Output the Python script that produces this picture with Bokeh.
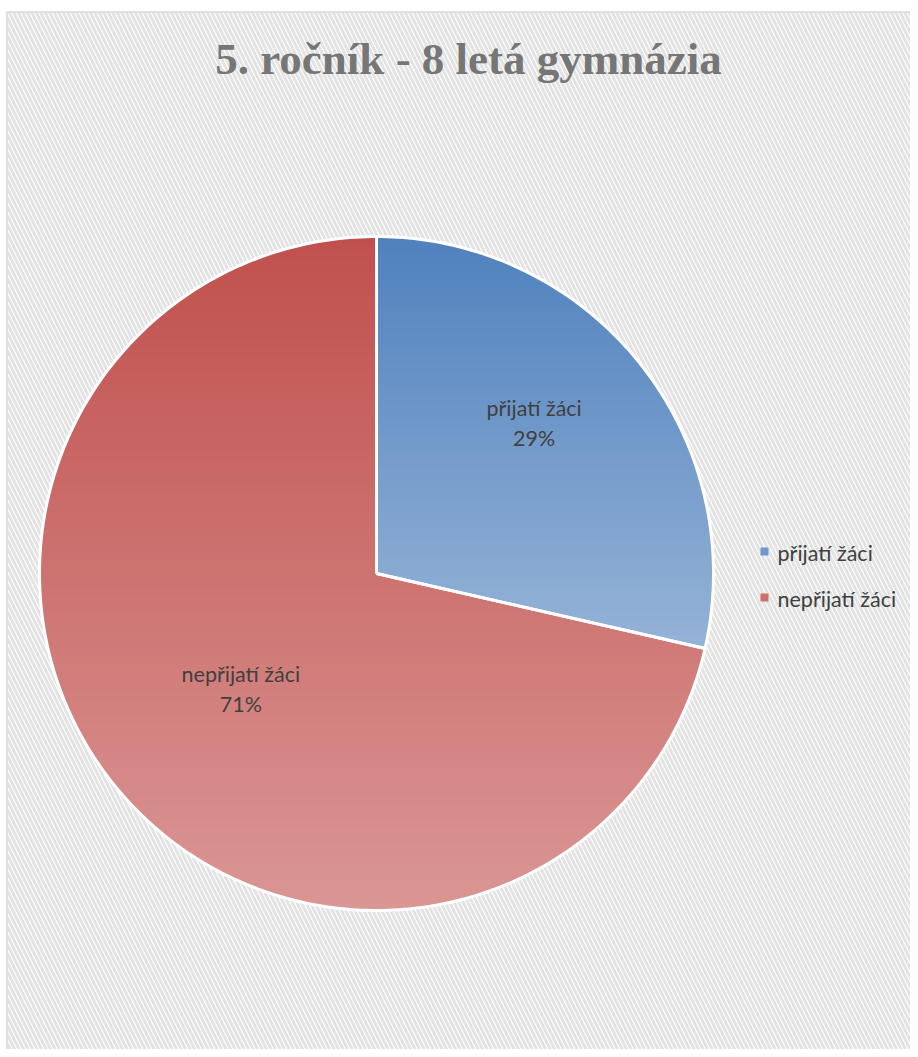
import numpy as np
from bokeh.plotting import figure
from bokeh.models import Range1d
from bokeh.core.properties import value
from bokeh.embed import file_html
from bokeh.resources import INLINE

# ---- data ----
title_text = "5. ročník - 8 letá gymnázia"
categories = ["přijatí žáci", "nepřijatí žáci"]
counts = [2, 5]
pct_labels = ["29%", "71%"]
top_colors = ["#4F81BD", "#C0504D"]
bottom_colors = ["#95B3D7", "#DA9694"]
legend_colors = ["#6F97CA", "#CC716E"]

W, H = 910, 1049
p = figure(width=W, height=H, output_backend="svg", toolbar_location=None,
           x_range=Range1d(0, W), y_range=Range1d(H, 0), min_border=0)
p.axis.visible = False
p.grid.visible = False
p.outline_line_color = None
p.background_fill_color = "white"
p.border_fill_color = "white"

# hatched chart area + border
p.quad(left=[7], right=[W], top=[12], bottom=[H], fill_color="white",
       hatch_pattern="\\", hatch_color="#e3e3e3", hatch_scale=9, hatch_weight=3.0,
       line_color=None)
p.line(x=[6.5, 6.5, W], y=[H, 11.5, 11.5], line_color="#d9d9d9", line_width=1.5)

# title
p.text(x=[468], y=[58], text=[title_text], text_font=value("Liberation Serif"),
       text_font_style="bold", text_font_size="45px", text_color="#767676",
       text_align="center", text_baseline="middle")

# pie
cx, cy, R = 376.0, 573.0, 337.0
total = float(sum(counts))
fracs = [c / total for c in counts]
starts = np.cumsum([0] + fracs[:-1]) * 2 * np.pi
ends = np.cumsum(fracs) * 2 * np.pi


def wedge_poly(a0, a1):
    n = max(8, int((a1 - a0) / (2 * np.pi) * 400))
    a = np.linspace(a0, a1, n)
    xs = [cx] + list(cx + R * np.sin(a))
    ys = [cy] + list(cy - R * np.cos(a))
    return list(zip(xs, ys))


def clip_half(pts, f):
    out = []
    n = len(pts)
    for i in range(n):
        cur = pts[i]
        prev = pts[i - 1]
        fc, fp = f(cur), f(prev)
        if fc >= 0:
            if fp < 0:
                t = fp / (fp - fc)
                out.append((prev[0] + (cur[0] - prev[0]) * t, prev[1] + (cur[1] - prev[1]) * t))
            out.append(cur)
        elif fp >= 0:
            t = fp / (fp - fc)
            out.append((prev[0] + (cur[0] - prev[0]) * t, prev[1] + (cur[1] - prev[1]) * t))
    return out


def hex2rgb(h):
    h = h.lstrip("#")
    return np.array([int(h[i:i + 2], 16) for i in (0, 2, 4)], dtype=float)


def rgb2hex(c):
    return "#%02x%02x%02x" % tuple(int(round(v)) for v in c)


xs_all, ys_all, cols_all = [], [], []
outlines_x, outlines_y = [], []
NS = 90
for i in range(len(counts)):
    poly = wedge_poly(starts[i], ends[i])
    py = [q[1] for q in poly]
    y_top, y_bot = min(py), max(py)
    c0, c1 = hex2rgb(top_colors[i]), hex2rgb(bottom_colors[i])
    edges = np.linspace(y_top, y_bot, NS + 1)
    for k in range(NS):
        lo, hi = edges[k] - 0.6, edges[k + 1] + 0.6
        part = clip_half(poly, lambda q: q[1] - lo)
        if len(part) < 3:
            continue
        part = clip_half(part, lambda q: hi - q[1])
        if len(part) < 3:
            continue
        t = (k + 0.5) / NS
        xs_all.append([q[0] for q in part])
        ys_all.append([q[1] for q in part])
        cols_all.append(rgb2hex(c0 + (c1 - c0) * t))
    outlines_x.append([q[0] for q in poly] + [poly[0][0]])
    outlines_y.append([q[1] for q in poly] + [poly[0][1]])

p.patches(xs=xs_all, ys=ys_all, fill_color=cols_all, line_color=None)
p.multi_line(xs=outlines_x, ys=outlines_y, line_color="white", line_width=3,
             line_join="round")

# data labels (placed along each slice's mid-angle, with small layout nudges)
label_r = [0.64, 0.53]
label_dx = [-11, 4]
label_dy = [-16, 4]
for i in range(len(counts)):
    mid = (starts[i] + ends[i]) / 2
    lx = cx + R * label_r[i] * np.sin(mid) + label_dx[i]
    ly = cy - R * label_r[i] * np.cos(mid) + label_dy[i]
    p.text(x=[lx, lx], y=[ly - 15, ly + 15], text=[categories[i], pct_labels[i]],
           text_font=value("Lato"), text_font_size="21.5px", text_color="#404040",
           text_align="center", text_baseline="middle")

# legend
leg_x, leg_y0, leg_dy = 764, 551, 46
for i in range(len(categories)):
    yy = leg_y0 + i * leg_dy
    p.scatter(x=[leg_x], y=[yy], marker="square", size=8, fill_color=legend_colors[i],
              line_color=None)
    p.text(x=[777], y=[yy + 1], text=[categories[i]], text_font=value("Lato"),
           text_font_size="21.5px", text_color="#404040", text_align="left",
           text_baseline="middle")

open("out.html", "w").write(file_html(p, INLINE))
